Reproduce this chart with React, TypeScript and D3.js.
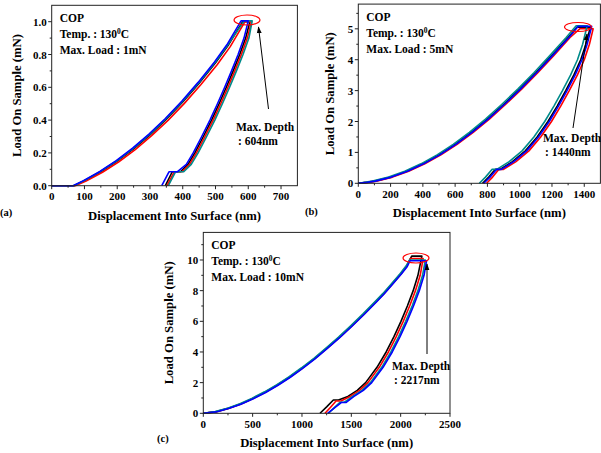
import * as d3 from "d3";

type Pt = [number, number];

const FONT = "'Liberation Serif', 'Times New Roman', serif";

// ---- panel (a): max load 1 mN ----
const aXTicks = [0, 100, 200, 300, 400, 500, 600, 700];
const aYTicks = [0, 0.2, 0.4, 0.6, 0.8, 1.0];
const aBlack: Pt[] = [
  [0, 0], [68, 0], [100, 0.03], [150, 0.085], [200, 0.15], [250, 0.225], [300, 0.31], [350, 0.405],
  [400, 0.51], [450, 0.625], [500, 0.75], [540, 0.86], [583, 1.0],
  [605, 1.0],
  [592, 0.9], [574, 0.8], [554, 0.7], [533, 0.6], [511, 0.5], [488, 0.4], [463, 0.3], [437, 0.2], [416, 0.13], [393, 0.085],
  [368, 0.085], [347, 0],
];
const aRed: Pt[] = [
  [0, 0], [72, 0], [105, 0.028], [155, 0.082], [205, 0.146], [255, 0.22], [305, 0.305], [355, 0.398],
  [405, 0.502], [455, 0.615], [505, 0.738], [545, 0.848], [590, 1.0],
  [610, 1.0],
  [597, 0.9], [579, 0.8], [559, 0.7], [538, 0.6], [516, 0.5], [493, 0.4], [468, 0.3], [442, 0.2], [421, 0.13], [398, 0.085],
  [374, 0.085], [352, 0],
];
const aTeal: Pt[] = [
  [0, 0], [67, 0], [99, 0.031], [149, 0.087], [199, 0.152], [249, 0.228], [299, 0.313], [349, 0.408],
  [399, 0.513], [449, 0.628], [499, 0.753], [539, 0.863], [588, 1.005],
  [612, 1.005],
  [602, 0.9], [584, 0.8], [564, 0.7], [543, 0.6], [521, 0.5], [498, 0.4], [473, 0.3], [447, 0.2], [426, 0.13], [403, 0.085],
  [378, 0.085], [356, 0],
];
const aBlue: Pt[] = [
  [0, 0], [65, 0], [97, 0.031], [147, 0.087], [197, 0.153], [247, 0.229], [297, 0.315], [347, 0.41],
  [397, 0.515], [447, 0.63], [497, 0.755], [537, 0.866], [578, 1.005],
  [600, 1.005],
  [587, 0.9], [569, 0.8], [549, 0.7], [528, 0.6], [506, 0.5], [483, 0.4], [458, 0.3], [432, 0.2], [411, 0.13], [383, 0.085],
  [358, 0.085], [336, 0],
];

// ---- panel (b): max load 5 mN ----
const bXTicks = [0, 200, 400, 600, 800, 1000, 1200, 1400];
const bYTicks = [0, 1, 2, 3, 4, 5];
const bBlack: Pt[] = [
  [0, 0], [50, 0.03], [100, 0.07], [200, 0.2], [300, 0.39], [400, 0.63], [500, 0.92], [600, 1.26], [700, 1.65],
  [800, 2.08], [900, 2.55], [1000, 3.05], [1100, 3.58], [1200, 4.14], [1300, 4.72], [1355, 5.05],
  [1438, 5.05],
  [1410, 4.5], [1378, 4.0], [1335, 3.5], [1285, 3.0], [1232, 2.5], [1175, 2.0], [1108, 1.5], [1035, 1.05], [955, 0.7], [878, 0.45],
  [848, 0.45], [808, 0.2], [770, 0],
];
const bTeal: Pt[] = [
  [0, 0], [40, 0.03], [88, 0.07], [188, 0.2], [288, 0.39], [388, 0.63], [488, 0.92], [588, 1.26], [688, 1.65],
  [788, 2.08], [888, 2.55], [988, 3.05], [1088, 3.58], [1188, 4.14], [1288, 4.72], [1350, 5.1],
  [1418, 5.1],
  [1390, 4.5], [1358, 4.0], [1315, 3.5], [1265, 3.0], [1212, 2.5], [1155, 2.0], [1088, 1.5], [1015, 1.05], [935, 0.7], [858, 0.45],
  [828, 0.45], [788, 0.2], [750, 0],
];
const bBlue: Pt[] = [
  [0, 0], [55, 0.03], [105, 0.07], [205, 0.2], [305, 0.39], [405, 0.63], [505, 0.92], [605, 1.26], [705, 1.65],
  [805, 2.08], [905, 2.55], [1005, 3.05], [1105, 3.58], [1205, 4.14], [1305, 4.72], [1362, 5.08],
  [1446, 5.08],
  [1418, 4.5], [1386, 4.0], [1343, 3.5], [1293, 3.0], [1240, 2.5], [1183, 2.0], [1116, 1.5], [1043, 1.05], [963, 0.7], [886, 0.45],
  [856, 0.45], [816, 0.2], [778, 0],
];
const bRed: Pt[] = [
  [0, 0], [62, 0.03], [112, 0.07], [212, 0.2], [312, 0.39], [412, 0.63], [512, 0.92], [612, 1.26], [712, 1.65],
  [812, 2.08], [912, 2.55], [1012, 3.05], [1112, 3.58], [1212, 4.14], [1312, 4.72], [1372, 5.0],
  [1455, 5.0],
  [1432, 4.5], [1400, 4.0], [1357, 3.5], [1307, 3.0], [1254, 2.5], [1197, 2.0], [1130, 1.5], [1057, 1.05], [977, 0.7], [900, 0.45],
  [870, 0.45], [832, 0.2], [795, 0],
];

// ---- panel (c): max load 10 mN ----
const cXTicks = [0, 500, 1000, 1500, 2000, 2500];
const cYTicks = [0, 2, 4, 6, 8, 10];
const cBlack: Pt[] = [
  [0, 0], [125, 0.1], [250, 0.32], [375, 0.6], [500, 0.97], [625, 1.38], [750, 1.85], [875, 2.37], [1000, 2.95],
  [1125, 3.57], [1250, 4.25], [1375, 4.95], [1500, 5.7], [1625, 6.48], [1750, 7.3], [1825, 7.8],
  [1900, 8.35], [2000, 9.1], [2060, 9.6], [2112, 10.25],
  [2215, 10.25],
  [2175, 9.0], [2127, 8.0], [2068, 7.0], [2003, 6.0], [1932, 5.0], [1853, 4.0], [1760, 3.0], [1645, 2.0], [1560, 1.5], [1465, 1.1], [1370, 0.87],
  [1318, 0.87], [1250, 0.42], [1183, 0],
];
const cRed: Pt[] = [
  [0, 0], [127, 0.09], [252, 0.31], [377, 0.59], [503, 0.96], [628, 1.37], [754, 1.84], [879, 2.36], [1004, 2.94],
  [1129, 3.56], [1254, 4.24], [1379, 4.94], [1504, 5.69], [1629, 6.47], [1754, 7.29], [1829, 7.79],
  [1904, 8.34], [2004, 9.09], [2064, 9.6], [2098, 10.1],
  [2228, 10.1],
  [2198, 9.0], [2150, 8.0], [2091, 7.0], [2026, 6.0], [1955, 5.0], [1876, 4.0], [1783, 3.0], [1668, 2.0], [1583, 1.5], [1488, 1.1], [1395, 0.8],
  [1345, 0.8], [1290, 0.4], [1233, 0],
];
const cTeal: Pt[] = [
  [0, 0], [121, 0.11], [246, 0.33], [371, 0.62], [496, 0.99], [621, 1.4], [746, 1.87], [871, 2.39], [996, 2.97],
  [1121, 3.59], [1246, 4.27], [1371, 4.97], [1496, 5.72], [1621, 6.5], [1746, 7.32], [1821, 7.82],
  [1896, 8.37], [1996, 9.12], [2056, 9.62], [2090, 10.0],
  [2250, 10.0],
  [2222, 9.0], [2175, 8.0], [2116, 7.0], [2051, 6.0], [1980, 5.0], [1901, 4.0], [1808, 3.0], [1693, 2.0], [1608, 1.5], [1513, 1.1], [1430, 0.72],
  [1385, 0.72], [1325, 0.35], [1267, 0],
];
const cBlue: Pt[] = [
  [0, 0], [131, 0.09], [256, 0.31], [381, 0.59], [507, 0.95], [632, 1.36], [757, 1.83], [882, 2.35], [1007, 2.93],
  [1132, 3.55], [1257, 4.23], [1382, 4.93], [1507, 5.68], [1632, 6.46], [1757, 7.28], [1832, 7.78],
  [1907, 8.33], [2007, 9.08], [2067, 9.58], [2095, 9.95],
  [2262, 9.95],
  [2237, 9.0], [2189, 8.0], [2130, 7.0], [2065, 6.0], [1994, 5.0], [1915, 4.0], [1822, 3.0], [1707, 2.0], [1622, 1.5], [1527, 1.1], [1445, 0.7],
  [1398, 0.7], [1320, 0.3], [1260, 0],
];

const COLORS = { black: "#000000", red: "#ff0000", teal: "#008b8b", blue: "#0000ff" };

type Panel = {
  tag: string;
  left: number; right: number; top: number; bottom: number;
  xMax: number; yMax: number;
  xTicks: number[]; yTicks: number[];
  yFmt: (v: number) => string;
  series: { pts: Pt[]; color: string }[];
  load: string; depth: string;
  ellipse: { cx: number; cy: number; rx: number; ry: number };
  arrow: { x1: number; y1: number; x2: number; y2: number };
  depthText: { x: number; y: number };
  ylabX: number;
  tagPos: { x: number; y: number };
};

const panels: Panel[] = [
  {
    tag: "(a)", left: 51.7, right: 297.4, top: 5.3, bottom: 185.7, xMax: 750, yMax: 1.1,
    xTicks: aXTicks, yTicks: aYTicks, yFmt: (v) => v.toFixed(1),
    series: [
      { pts: aBlack, color: COLORS.black }, { pts: aRed, color: COLORS.red },
      { pts: aTeal, color: COLORS.teal }, { pts: aBlue, color: COLORS.blue },
    ],
    load: "1mN", depth: ": 604nm",
    ellipse: { cx: 247, cy: 20, rx: 13, ry: 5 },
    arrow: { x1: 268.5, y1: 109, x2: 258.5, y2: 27 },
    depthText: { x: 236, y: 131 },
    ylabX: 21, tagPos: { x: 0, y: 216 },
  },
  {
    tag: "(b)", left: 358.3, right: 600.4, top: 4.1, bottom: 183.3, xMax: 1500, yMax: 5.8,
    xTicks: bXTicks, yTicks: bYTicks, yFmt: (v) => String(v),
    series: [
      { pts: bBlack, color: COLORS.black }, { pts: bRed, color: COLORS.red },
      { pts: bTeal, color: COLORS.teal }, { pts: bBlue, color: COLORS.blue },
    ],
    load: "5mN", depth: ": 1440nm",
    ellipse: { cx: 578, cy: 27, rx: 13.5, ry: 4.5 },
    arrow: { x1: 573, y1: 128, x2: 587, y2: 34 },
    depthText: { x: 543, y: 142 },
    ylabX: 334, tagPos: { x: 305, y: 215 },
  },
  {
    tag: "(c)", left: 203.3, right: 450, top: 232.4, bottom: 413.3, xMax: 2500, yMax: 11.8,
    xTicks: cXTicks, yTicks: cYTicks, yFmt: (v) => String(v),
    series: [
      { pts: cBlack, color: COLORS.black }, { pts: cRed, color: COLORS.red },
      { pts: cTeal, color: COLORS.teal }, { pts: cBlue, color: COLORS.blue },
    ],
    load: "10mN", depth: ": 2217nm",
    ellipse: { cx: 416, cy: 258, rx: 13, ry: 5 },
    arrow: { x1: 427, y1: 354, x2: 427, y2: 264 },
    depthText: { x: 392, y: 370 },
    ylabX: 173, tagPos: { x: 157, y: 442 },
  },
];

function PanelView({ p }: { p: Panel }) {
  const x = d3.scaleLinear().domain([0, p.xMax]).range([p.left, p.right]);
  const y = d3.scaleLinear().domain([0, p.yMax]).range([p.bottom, p.top]);
  const line = d3
    .line<Pt>()
    .x((d) => x(d[0]))
    .y((d) => y(d[1]));

  const xStep = p.xTicks[1] - p.xTicks[0];
  const yStep = p.yTicks[1] - p.yTicks[0];
  const xMinor = d3.range(xStep / 2, p.xMax, xStep);
  const yMinor = d3.range(yStep / 2, p.yMax, yStep);
  const midX = (p.left + p.right) / 2;
  const midY = (p.top + p.bottom) / 2;
  const tx = p.left + 8;

  return (
    <g fontFamily={FONT} fontWeight="bold" fill="#000">
      {p.series.map((s, i) => (
        <path key={i} d={line(s.pts) ?? ""} fill="none" stroke={s.color} strokeWidth={1.6}
          strokeLinejoin="round" />
      ))}

      <rect x={p.left} y={p.top} width={p.right - p.left} height={p.bottom - p.top}
        fill="none" stroke="#222" strokeWidth={1} />

      {p.xTicks.map((t) => (
        <g key={"x" + t}>
          <line x1={x(t)} x2={x(t)} y1={p.bottom} y2={p.bottom + 3.5} stroke="#222" />
          <text x={x(t)} y={p.bottom + 14.5} fontSize={11} textAnchor="middle">{t}</text>
        </g>
      ))}
      {xMinor.map((t) => (
        <line key={"xm" + t} x1={x(t)} x2={x(t)} y1={p.bottom} y2={p.bottom + 2} stroke="#222" />
      ))}
      {p.yTicks.map((t) => (
        <g key={"y" + t}>
          <line x1={p.left - 3.5} x2={p.left} y1={y(t)} y2={y(t)} stroke="#222" />
          <text x={p.left - 5} y={y(t) + 4} fontSize={11} textAnchor="end">{p.yFmt(t)}</text>
        </g>
      ))}
      {yMinor.map((t) => (
        <line key={"ym" + t} x1={p.left - 2} x2={p.left} y1={y(t)} y2={y(t)} stroke="#222" />
      ))}

      <text x={midX} y={p.bottom + 34} fontSize={12.7} textAnchor="middle">
        Displacement Into Surface (nm)
      </text>
      <text transform={`translate(${p.ylabX},${midY}) rotate(-90)`} fontSize={12.7} textAnchor="middle">
        Load On Sample (mN)
      </text>
      <text x={p.tagPos.x} y={p.tagPos.y} fontSize={10.5}>{p.tag}</text>

      <text x={tx} y={p.top + 17} fontSize={11.5}>COP</text>
      <text x={tx} y={p.top + 33} fontSize={11.5}>
        Temp. : 130<tspan dy={-4.5} fontSize={7.5}>0</tspan><tspan dy={4.5}>C</tspan>
      </text>
      <text x={tx} y={p.top + 49} fontSize={11.5}>Max. Load : {p.load}</text>

      <ellipse cx={p.ellipse.cx} cy={p.ellipse.cy} rx={p.ellipse.rx} ry={p.ellipse.ry}
        fill="none" stroke="#ff0000" strokeWidth={1.1} />
      <line x1={p.arrow.x1} y1={p.arrow.y1} x2={p.arrow.x2} y2={p.arrow.y2}
        stroke="#000" strokeWidth={1} markerEnd="url(#arr)" />
      <text x={p.depthText.x} y={p.depthText.y} fontSize={11.5}>Max. Depth</text>
      <text x={p.depthText.x + 2} y={p.depthText.y + 14} fontSize={11.5}>{p.depth}</text>
    </g>
  );
}

export default function App() {
  return (
    <svg width={601} height={453} viewBox="0 0 601 453"
      style={{ position: "absolute", left: 0, top: 0, background: "#fff" }}>
      <defs>
        <marker id="arr" viewBox="0 0 10 10" refX={9} refY={5} markerWidth={7} markerHeight={7}
          orient="auto" markerUnits="userSpaceOnUse">
          <path d="M0,1.5 L10,5 L0,8.5 Z" fill="#000" />
        </marker>
      </defs>
      <rect width={601} height={453} fill="#fff" />
      {panels.map((p) => (
        <PanelView key={p.tag} p={p} />
      ))}
    </svg>
  );
}
